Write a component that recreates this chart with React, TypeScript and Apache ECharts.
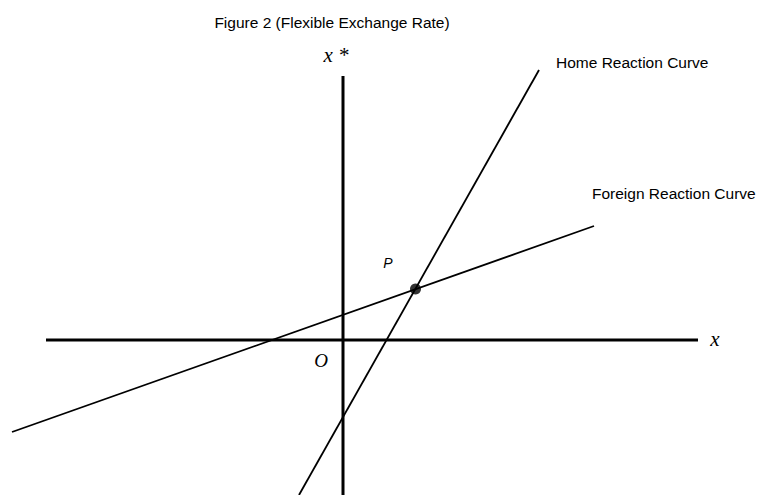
import React, { useEffect, useRef } from "react";
import * as echarts from "echarts";

// Data in model units (origin O at the axes crossing)
const horizontalAxis: number[][] = [[-5.94, 0], [7.1, 0]];
const verticalAxis: number[][] = [[0, 5.28], [0, -3.1]];
const homeCurve: number[][] = [[-0.88, -3.1], [3.92, 5.4]];
const foreignCurve: number[][] = [[-6.62, -1.84], [5.02, 2.28]];
const equilibrium: number[][] = [[1.45, 1.02]];

const titleText = "Figure 2 (Flexible Exchange Rate)";
const homeLabel = "Home Reaction Curve";
const foreignLabel = "Foreign Reaction Curve";

export default function App() {
  const ref = useRef<HTMLDivElement>(null);
  useEffect(() => {
    if (!ref.current) return;
    const chart = echarts.init(ref.current, undefined, { renderer: "svg" });
    const sans = "'Liberation Sans', Arial, sans-serif";
    const serif = "'Liberation Serif', 'Times New Roman', serif";
    chart.setOption({
      animation: false,
      backgroundColor: "#ffffff",
      grid: { left: 0, right: 0, top: 0, bottom: 0 },
      xAxis: { type: "value", min: -6.86, max: 8.28, show: false },
      yAxis: { type: "value", min: -3.1, max: 6.8, show: false },
      series: [
        {
          type: "line", data: horizontalAxis, symbol: "none",
          lineStyle: { color: "#000", width: 3 }, silent: true,
        },
        {
          type: "line", data: verticalAxis, symbol: "none",
          lineStyle: { color: "#000", width: 3 }, silent: true,
        },
        {
          type: "line", data: homeCurve, symbol: "none",
          lineStyle: { color: "#000", width: 1.8 }, silent: true,
        },
        {
          type: "line", data: foreignCurve, symbol: "none",
          lineStyle: { color: "#000", width: 1.8 }, silent: true,
        },
        {
          type: "scatter", data: equilibrium, symbol: "circle", symbolSize: 11,
          itemStyle: { color: "#000" }, silent: true, z: 5,
        },
      ],
      graphic: [
        { type: "text", x: 332, y: 22, style: { text: titleText, font: `15.5px ${sans}`, fill: "#000", textAlign: "center", textVerticalAlign: "middle" } },
        { type: "text", x: 336, y: 55, style: { text: "x *", font: `italic 21px ${serif}`, fill: "#000", textAlign: "center", textVerticalAlign: "middle" } },
        { type: "text", x: 556, y: 62, style: { text: homeLabel, font: `15.5px ${sans}`, fill: "#000", textAlign: "left", textVerticalAlign: "middle" } },
        { type: "text", x: 592, y: 193, style: { text: foreignLabel, font: `15.5px ${sans}`, fill: "#000", textAlign: "left", textVerticalAlign: "middle" } },
        { type: "text", x: 388, y: 263, style: { text: "P", font: `italic 14px ${sans}`, fill: "#000", textAlign: "center", textVerticalAlign: "middle" } },
        { type: "text", x: 321, y: 360, style: { text: "O", font: `italic 19px ${serif}`, fill: "#000", textAlign: "center", textVerticalAlign: "middle" } },
        { type: "text", x: 715, y: 339, style: { text: "x", font: `italic 21px ${serif}`, fill: "#000", textAlign: "center", textVerticalAlign: "middle" } },
      ],
    });
    return () => chart.dispose();
  }, []);
  return (
    <div
      ref={ref}
      style={{ position: "fixed", left: 0, top: 0, width: 757, height: 495, background: "#fff" }}
    />
  );
}
